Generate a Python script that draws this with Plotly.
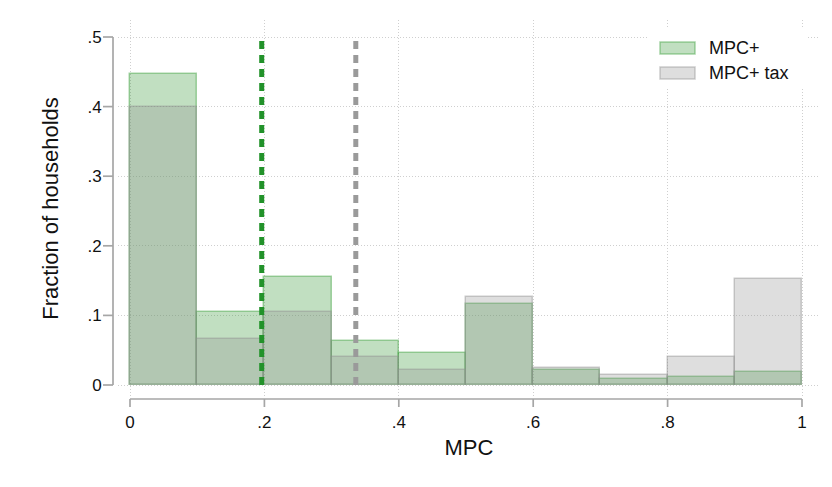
import plotly.graph_objects as go

# ---- data ----
bin_left = [0.0, 0.1, 0.2, 0.3, 0.4, 0.5, 0.6, 0.7, 0.8, 0.9]
bin_width = 0.1
mpc_plus = [0.447, 0.105, 0.155, 0.063, 0.046, 0.117, 0.022, 0.009, 0.012, 0.018]
mpc_plus_tax = [0.400, 0.066, 0.105, 0.040, 0.022, 0.127, 0.025, 0.015, 0.040, 0.153]
mean_mpc_plus = 0.196
mean_mpc_plus_tax = 0.336
mean_line_top = 0.495
y_tickvals = [0, 0.1, 0.2, 0.3, 0.4, 0.5]
y_ticktext = ["0", ".1", ".2", ".3", ".4", ".5"]
x_tickvals = [0, 0.2, 0.4, 0.6, 0.8, 1.0]
x_ticktext = ["0", ".2", ".4", ".6", ".8", "1"]
series_names = ["MPC+", "MPC+ tax"]

# ---- style ----
OFF = 8  # page body margin
W, H = 816, 471
L, R, T, B = 110, 4, 12, 82
PW, PH = W - L - R, H - T - B
XR = [-0.01786, 1.02679]
YR = [-0.01724, 0.52443]
FONT = "Liberation Sans, Arial, sans-serif"
GREEN_FILL = "rgba(50,150,50,0.30)"
GREEN_LINE = "rgba(60,160,60,0.45)"
GRAY_FILL = "rgba(145,145,145,0.30)"
GRAY_LINE = "rgba(145,145,145,0.45)"
AXIS_COL = "#a6a6a6"
GRID_COL = "#cfcfcf"

def px_x(p):
    return (p - OFF - L) / PW

def px_y(p):
    return (T + PH - (p - OFF)) / PH

def dx(v):
    return (v - XR[0]) / (XR[1] - XR[0])

def dy(v):
    return (v - YR[0]) / (YR[1] - YR[0])

centers = [b + bin_width / 2 for b in bin_left]

fig = go.Figure()
fig.add_trace(go.Bar(x=centers, y=mpc_plus, width=bin_width, name=series_names[0],
                     marker=dict(color=GREEN_FILL, line=dict(color=GREEN_LINE, width=1.5)),
                     showlegend=False))
fig.add_trace(go.Bar(x=centers, y=mpc_plus_tax, width=bin_width, name=series_names[1],
                     marker=dict(color=GRAY_FILL, line=dict(color=GRAY_LINE, width=1.5)),
                     showlegend=False))
fig.add_trace(go.Scatter(x=[mean_mpc_plus, mean_mpc_plus], y=[0, mean_line_top], mode="lines",
                         line=dict(color="#22922a", width=5, dash="8px,6px"), showlegend=False))
fig.add_trace(go.Scatter(x=[mean_mpc_plus_tax, mean_mpc_plus_tax], y=[0, mean_line_top], mode="lines",
                         line=dict(color="#9a9a9a", width=5, dash="8px,6px"), showlegend=False))

shapes = []
# y axis line and ticks
shapes.append(dict(type="line", xref="paper", yref="paper", x0=px_x(113), x1=px_x(113),
                   y0=dy(0), y1=dy(0.5), line=dict(color=AXIS_COL, width=1.7)))
for v in y_tickvals:
    shapes.append(dict(type="line", xref="paper", yref="paper", x0=px_x(103), x1=px_x(113),
                       y0=dy(v), y1=dy(v), line=dict(color=AXIS_COL, width=1.7)))
# x axis line and ticks
shapes.append(dict(type="line", xref="paper", yref="paper", x0=dx(0), x1=dx(1),
                   y0=px_y(399), y1=px_y(399), line=dict(color=AXIS_COL, width=1.7)))
for v in x_tickvals:
    shapes.append(dict(type="line", xref="paper", yref="paper", x0=dx(v), x1=dx(v),
                       y0=px_y(399), y1=px_y(407), line=dict(color=AXIS_COL, width=1.7)))
# legend
shapes.append(dict(type="rect", xref="paper", yref="paper", layer="above",
                   x0=px_x(648), x1=px_x(808), y0=px_y(88), y1=px_y(27),
                   fillcolor="white", line=dict(width=0)))
shapes.append(dict(type="rect", xref="paper", yref="paper", layer="above",
                   x0=px_x(660), x1=px_x(695), y0=px_y(54), y1=px_y(42),
                   fillcolor=GREEN_FILL, line=dict(color=GREEN_LINE, width=1.5)))
shapes.append(dict(type="rect", xref="paper", yref="paper", layer="above",
                   x0=px_x(660), x1=px_x(695), y0=px_y(79), y1=px_y(67),
                   fillcolor=GRAY_FILL, line=dict(color=GRAY_LINE, width=1.5)))

annotations = [
    dict(xref="paper", yref="paper", x=px_x(707), y=px_y(48), text=series_names[0],
         showarrow=False, xanchor="left", yanchor="middle", font=dict(size=18, color="#111", family=FONT)),
    dict(xref="paper", yref="paper", x=px_x(707), y=px_y(73), text=series_names[1],
         showarrow=False, xanchor="left", yanchor="middle", font=dict(size=18, color="#111", family=FONT)),
]

fig.update_layout(
    width=W, height=H,
    margin=dict(l=L, r=R, t=T, b=B),
    barmode="overlay", bargap=0,
    paper_bgcolor="white", plot_bgcolor="white",
    font=dict(family=FONT, size=17, color="#111"),
    shapes=shapes, annotations=annotations,
    showlegend=False,
)
fig.update_xaxes(range=XR, tickvals=x_tickvals, ticktext=x_ticktext, showline=False,
                 zeroline=False, showgrid=True, gridcolor=GRID_COL, griddash="1px,2px", gridwidth=1,
                 ticks="outside", ticklen=10, tickcolor="rgba(0,0,0,0)",
                 title=dict(text="MPC", font=dict(size=22), standoff=8),
                 tickfont=dict(size=17))
fig.update_yaxes(range=YR, tickvals=y_tickvals, ticktext=y_ticktext, showline=False,
                 zeroline=False, showgrid=True, gridcolor=GRID_COL, griddash="1px,2px", gridwidth=1,
                 ticks="outside", ticklen=12, tickcolor="rgba(0,0,0,0)",
                 title=dict(text="Fraction of households", font=dict(size=22), standoff=22),
                 tickfont=dict(size=17))

fig.write_html("out.html")
